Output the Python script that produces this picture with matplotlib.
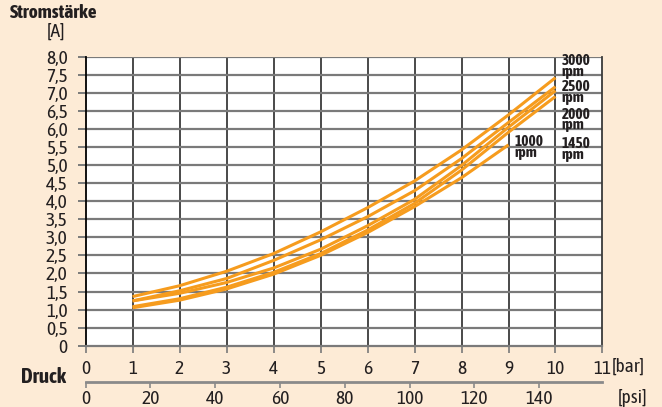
import matplotlib.pyplot as plt
from matplotlib import font_manager

# Druck [bar] at the curve points
druck = [1, 2, 3, 4, 5, 6, 7, 8, 9, 10]
druck_1000 = [1, 2, 3, 4, 5, 6, 7, 8, 9]

# Stromstaerke [A] per rpm curve
rpm_3000 = [1.36, 1.66, 2.06, 2.55, 3.15, 3.82, 4.56, 5.42, 6.39, 7.42]
rpm_2500 = [1.24, 1.52, 1.86, 2.36, 2.93, 3.57, 4.29, 5.18, 6.18, 7.17]
rpm_2000 = [1.24, 1.45, 1.75, 2.15, 2.67, 3.32, 4.05, 4.99, 6.05, 7.06]
rpm_1450 = [1.08, 1.30, 1.62, 2.03, 2.55, 3.20, 3.94, 4.86, 5.91, 6.90]
rpm_1000 = [1.05, 1.26, 1.57, 1.98, 2.50, 3.13, 3.85, 4.65, 5.56]

y_ticks = [0, 0.5, 1, 1.5, 2, 2.5, 3, 3.5, 4, 4.5, 5, 5.5, 6, 6.5, 7, 7.5, 8]
y_labels = ['0', '0,5', '1,0', '1,5', '2,0', '2,5', '3,0', '3,5', '4,0',
            '4,5', '5,0', '5,5', '6,0', '6,5', '7,0', '7,5', '8,0']
bar_ticks = list(range(0, 12))
psi_ticks = [0, 20, 40, 60, 80, 100, 120, 140]

bg = '#fdebd6'
orange = '#f69c1e'
txt = '#231f20'

# look for a narrow face that also has a bold cut
weights = {}
for f in font_manager.fontManager.ttflist:
    w = f.weight if isinstance(f.weight, int) else 400
    weights.setdefault(f.name, set()).add(w)
narrow = [n for n in sorted(weights) if ('Narrow' in n or 'Condensed' in n)]
bold_narrow = [n for n in narrow if max(weights[n]) >= 600]
if 'Liberation Sans Narrow' in weights:
    plt.rcParams['font.family'] = ['Liberation Sans Narrow', 'DejaVu Sans']
elif bold_narrow:
    plt.rcParams['font.family'] = [bold_narrow[0], 'DejaVu Sans']
elif narrow:
    plt.rcParams['font.family'] = [narrow[0], 'DejaVu Sans']
else:
    plt.rcParams['font.family'] = ['DejaVu Sans']

fig = plt.figure(figsize=(6.62, 4.07), dpi=100, facecolor=bg)
ax = fig.add_axes([0.1293, 0.1506, 0.7808, 0.7101])
ax.set_facecolor('white')
ax.set_xlim(0, 11)
ax.set_ylim(0, 8)

# grid
for v in range(1, 11):
    ax.axvline(v, color='#3a3a3a', lw=1.3, zorder=1)
for h in y_ticks[1:]:
    ax.axhline(h, color='#7a7a7a', lw=1.6, zorder=1)

# curves
for ys in [rpm_3000, rpm_2500, rpm_2000, rpm_1450]:
    ax.plot(druck, ys, color=orange, lw=2.2, solid_capstyle='butt', zorder=3)
ax.plot(druck_1000, rpm_1000, color=orange, lw=2.2, solid_capstyle='butt', zorder=3)

# rpm labels
lab = dict(fontsize=11, fontweight='bold', color=txt, linespacing=0.7,
           va='center', ha='left', zorder=4)
ax.text(10.13, 7.72, '3000\nrpm', **lab)
ax.text(10.13, 7.00, '2500\nrpm', **lab)
ax.text(10.13, 6.25, '2000\nrpm', **lab)
ax.text(10.13, 5.43, '1450\nrpm', **lab)
ax.text(9.13, 5.48, '1000\nrpm', **lab)

# axes styling
ax.spines['top'].set_visible(False)
ax.spines['left'].set_color('black')
ax.spines['left'].set_linewidth(1.3)
ax.spines['right'].set_color('#3a3a3a')
ax.spines['right'].set_linewidth(1.3)
ax.spines['bottom'].set_color('#7a7a7a')
ax.spines['bottom'].set_linewidth(1.6)

ax.set_yticks(y_ticks)
ax.set_yticklabels(y_labels)
ax.set_xticks(bar_ticks)
ax.tick_params(axis='y', direction='out', length=6, width=1.4, color='#7a7a7a',
               pad=7, labelsize=14, labelcolor=txt)
ax.tick_params(axis='x', direction='out', length=5, width=1.2, color='#7a7a7a',
               pad=5, labelsize=14, labelcolor=txt)

# psi axis
sec = ax.secondary_xaxis(-0.1246, functions=(lambda b: b * 14.5038,
                                              lambda p: p / 14.5038))
sec.set_xticks(psi_ticks)
sec.spines['bottom'].set_color('#8a8a8a')
sec.spines['bottom'].set_linewidth(2)
sec.tick_params(direction='out', length=4, width=1.2, color='#8a8a8a',
                pad=2, labelsize=14, labelcolor=txt)

# titles / units
fig.text(10 / 662, 1 - 13 / 407, 'Stromstärke', fontsize=14, fontweight='bold',
         color=txt, ha='left', va='center')
fig.text(56 / 662, 1 - 32 / 407, '[A]', fontsize=14, color=txt,
         ha='center', va='center')
fig.text(612 / 662, 1 - 367 / 407, '[bar]', fontsize=14, color=txt,
         ha='left', va='center')
fig.text(618 / 662, 1 - 398 / 407, '[psi]', fontsize=14, color=txt,
         ha='left', va='center')
fig.text(21 / 662, 1 - 377 / 407, 'Druck', fontsize=15, fontweight='bold',
         color=txt, ha='left', va='center')

fig.savefig('out.png', dpi=100, facecolor=bg)
